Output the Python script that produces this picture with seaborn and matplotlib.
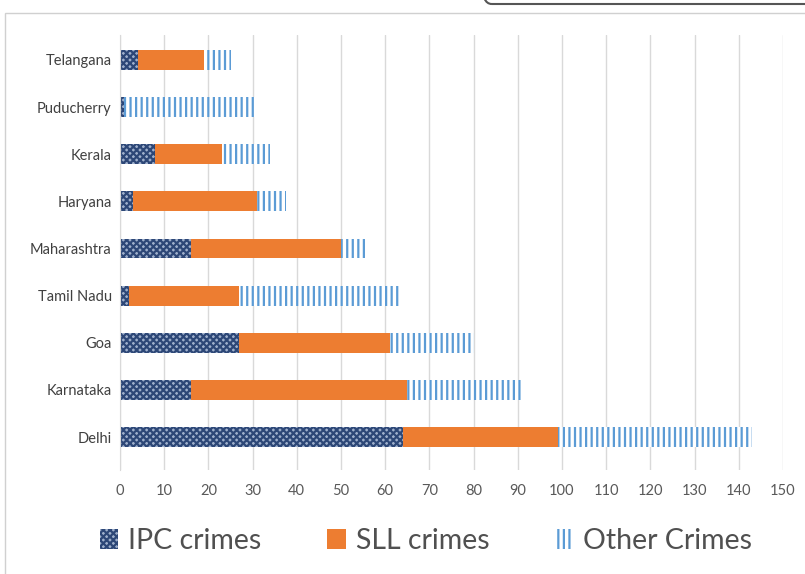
import matplotlib
matplotlib.use("Agg")
import matplotlib.pyplot as plt
import seaborn as sns
import pandas as pd
from matplotlib.patches import Patch, Rectangle, FancyBboxPatch

states = ["Telangana", "Puducherry", "Kerala", "Haryana", "Maharashtra",
          "Tamil Nadu", "Goa", "Karnataka", "Delhi"]
ipc = [4, 1, 8, 3, 16, 2, 27, 16, 64]
sll = [15, 0, 15, 28, 34, 25, 34, 49, 35]
other = [6, 30, 11, 6.5, 6, 36.5, 19, 26, 44]
series_names = ["IPC crimes", "SLL crimes", "Other Crimes"]
xticks = list(range(0, 151, 10))

df = pd.DataFrame({"state": states, "ipc": ipc, "sll": sll, "other": other})
df["c1"] = df["ipc"]
df["c2"] = df["ipc"] + df["sll"]
df["c3"] = df["c2"] + df["other"]

sns.set_style("white")
plt.rcParams["font.family"] = ["Lato", "DejaVu Sans"]
plt.rcParams["hatch.linewidth"] = 1.6

fig = plt.figure(figsize=(8.05, 5.74), dpi=100)
ax = fig.add_axes([120/805, 1-470/574, (783-120)/805, (470-35)/574])

col_ipc_face = "#9fb0cc"
col_ipc_edge = "#2d4777"
col_sll = "#ed7d31"
col_other = "#5b9bd5"
bh = 0.42

sns.barplot(data=df, x="c3", y="state", order=states, orient="h", ax=ax,
            color="white", width=bh)
for p in ax.patches:
    p.set_facecolor("white"); p.set_edgecolor(col_other); p.set_hatch("|||"); p.set_linewidth(0)
n = len(ax.patches)
sns.barplot(data=df, x="c2", y="state", order=states, orient="h", ax=ax,
            color=col_sll, width=bh, saturation=1)
for p in ax.patches[n:]:
    p.set_facecolor(col_sll); p.set_edgecolor(col_sll); p.set_linewidth(0)
n = len(ax.patches)
sns.barplot(data=df, x="c1", y="state", order=states, orient="h", ax=ax,
            color=col_ipc_face, width=bh, saturation=1)
for p in ax.patches[n:]:
    p.set_facecolor(col_ipc_face); p.set_edgecolor(col_ipc_edge); p.set_hatch("xxxxx"); p.set_linewidth(0)

ax.set_xlim(0, 150)
ax.set_ylim(8.7, -0.53)
ax.set_xticks(xticks)
ax.set_xticklabels([str(t) for t in xticks])
ax.xaxis.grid(True, color="#d9d9d9", linewidth=1)
ax.set_axisbelow(True)
for s in ["top", "right", "bottom"]:
    ax.spines[s].set_visible(False)
ax.spines["left"].set_color("#d9d9d9")
ax.tick_params(axis="x", colors="#595959", labelsize=10.5, length=0, pad=10)
ax.tick_params(axis="y", colors="#404040", labelsize=10.5, length=0, pad=6)
ax.set_xlabel("")
ax.set_ylabel("")

handles = [
    Patch(facecolor=col_ipc_face, edgecolor=col_ipc_edge, hatch="xxxxx", linewidth=0, label=series_names[0]),
    Patch(facecolor=col_sll, edgecolor=col_sll, linewidth=0, label=series_names[1]),
    Patch(facecolor="white", edgecolor=col_other, hatch="|||", linewidth=0, label=series_names[2]),
]
fig.legend(handles=handles, loc="center", bbox_to_anchor=(426/805, 1-541/574), ncol=3,
           frameon=False, fontsize=20.5, handlelength=0.65, handleheight=0.65,
           handletextpad=0.35, columnspacing=2.3, labelcolor="#505050")

# outer chart border
fig.patches.append(Rectangle((5/805, -0.01), 1.1, 1-13/574+0.01, transform=fig.transFigure,
                             fill=False, edgecolor="#d0d0d0", linewidth=1))
fig.patches.append(FancyBboxPatch((482/805, 1-4/574), 0.5, 0.05, boxstyle="round,pad=0,rounding_size=0.012",
                                  transform=fig.transFigure, fill=False, edgecolor="#555555", linewidth=1.5))

fig.savefig("out.png", dpi=100)
